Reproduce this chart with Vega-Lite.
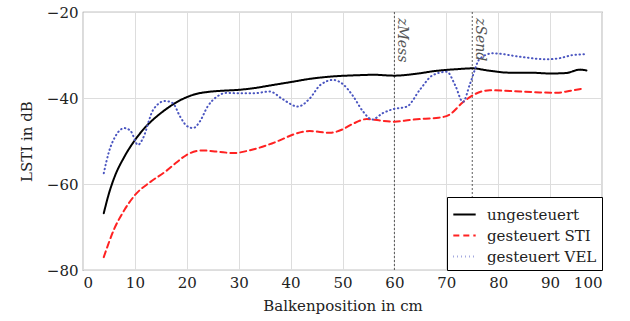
{
  "$schema": "https://vega.github.io/schema/vega-lite/v6.json",
  "width": 519,
  "height": 258,
  "autosize": {"type": "none"},
  "padding": {"left": 83, "top": 12, "right": 28, "bottom": 51},
  "background": "white",
  "config": {
    "font": "DejaVu Serif",
    "view": {"stroke": "#888888", "strokeWidth": 1.2},
    "axis": {
      "labelFont": "DejaVu Serif",
      "titleFont": "DejaVu Serif",
      "labelFontSize": 15,
      "titleFontSize": 15,
      "labelColor": "#222",
      "titleColor": "#222",
      "titleFontWeight": "normal",
      "gridColor": "#dddddd",
      "gridWidth": 1,
      "domain": false,
      "ticks": false
    }
  },
  "datasets": {
    "curves": [
      {"pos": 4, "val": -66.8, "serie": "ungesteuert"},
      {"pos": 5, "val": -62.2, "serie": "ungesteuert"},
      {"pos": 6, "val": -58.6, "serie": "ungesteuert"},
      {"pos": 8, "val": -53.6, "serie": "ungesteuert"},
      {"pos": 10, "val": -49.8, "serie": "ungesteuert"},
      {"pos": 12, "val": -46.8, "serie": "ungesteuert"},
      {"pos": 14, "val": -44.5, "serie": "ungesteuert"},
      {"pos": 16, "val": -42.6, "serie": "ungesteuert"},
      {"pos": 18, "val": -41.0, "serie": "ungesteuert"},
      {"pos": 20, "val": -39.8, "serie": "ungesteuert"},
      {"pos": 22, "val": -39.0, "serie": "ungesteuert"},
      {"pos": 24, "val": -38.6, "serie": "ungesteuert"},
      {"pos": 27, "val": -38.3, "serie": "ungesteuert"},
      {"pos": 30, "val": -38.1, "serie": "ungesteuert"},
      {"pos": 33, "val": -37.7, "serie": "ungesteuert"},
      {"pos": 36, "val": -37.1, "serie": "ungesteuert"},
      {"pos": 40, "val": -36.3, "serie": "ungesteuert"},
      {"pos": 44, "val": -35.5, "serie": "ungesteuert"},
      {"pos": 48, "val": -35.0, "serie": "ungesteuert"},
      {"pos": 53, "val": -34.7, "serie": "ungesteuert"},
      {"pos": 56, "val": -34.6, "serie": "ungesteuert"},
      {"pos": 60, "val": -34.8, "serie": "ungesteuert"},
      {"pos": 64, "val": -34.4, "serie": "ungesteuert"},
      {"pos": 68, "val": -33.7, "serie": "ungesteuert"},
      {"pos": 72, "val": -33.3, "serie": "ungesteuert"},
      {"pos": 75, "val": -33.1, "serie": "ungesteuert"},
      {"pos": 78, "val": -33.6, "serie": "ungesteuert"},
      {"pos": 82, "val": -34.1, "serie": "ungesteuert"},
      {"pos": 86, "val": -34.1, "serie": "ungesteuert"},
      {"pos": 90, "val": -34.3, "serie": "ungesteuert"},
      {"pos": 93, "val": -34.2, "serie": "ungesteuert"},
      {"pos": 95.8, "val": -33.4, "serie": "ungesteuert"},
      {"pos": 97, "val": -33.6, "serie": "ungesteuert"},

      {"pos": 4, "val": -77.0, "serie": "gesteuert STI"},
      {"pos": 6, "val": -70.5, "serie": "gesteuert STI"},
      {"pos": 8, "val": -66.0, "serie": "gesteuert STI"},
      {"pos": 10, "val": -62.6, "serie": "gesteuert STI"},
      {"pos": 13, "val": -59.5, "serie": "gesteuert STI"},
      {"pos": 16, "val": -57.0, "serie": "gesteuert STI"},
      {"pos": 18, "val": -55.0, "serie": "gesteuert STI"},
      {"pos": 20, "val": -53.2, "serie": "gesteuert STI"},
      {"pos": 23, "val": -52.2, "serie": "gesteuert STI"},
      {"pos": 26, "val": -52.5, "serie": "gesteuert STI"},
      {"pos": 29, "val": -52.8, "serie": "gesteuert STI"},
      {"pos": 32, "val": -52.2, "serie": "gesteuert STI"},
      {"pos": 35.4, "val": -51.0, "serie": "gesteuert STI"},
      {"pos": 38, "val": -49.8, "serie": "gesteuert STI"},
      {"pos": 40.5, "val": -48.5, "serie": "gesteuert STI"},
      {"pos": 43.7, "val": -47.7, "serie": "gesteuert STI"},
      {"pos": 47.6, "val": -48.1, "serie": "gesteuert STI"},
      {"pos": 50, "val": -47.3, "serie": "gesteuert STI"},
      {"pos": 52, "val": -46.0, "serie": "gesteuert STI"},
      {"pos": 54.7, "val": -44.9, "serie": "gesteuert STI"},
      {"pos": 57, "val": -45.2, "serie": "gesteuert STI"},
      {"pos": 60, "val": -45.5, "serie": "gesteuert STI"},
      {"pos": 63, "val": -45.1, "serie": "gesteuert STI"},
      {"pos": 66, "val": -44.8, "serie": "gesteuert STI"},
      {"pos": 68.5, "val": -44.6, "serie": "gesteuert STI"},
      {"pos": 70.7, "val": -43.8, "serie": "gesteuert STI"},
      {"pos": 73.2, "val": -41.0, "serie": "gesteuert STI"},
      {"pos": 75.2, "val": -39.3, "serie": "gesteuert STI"},
      {"pos": 78.4, "val": -38.2, "serie": "gesteuert STI"},
      {"pos": 81, "val": -38.3, "serie": "gesteuert STI"},
      {"pos": 84.2, "val": -38.5, "serie": "gesteuert STI"},
      {"pos": 88, "val": -38.7, "serie": "gesteuert STI"},
      {"pos": 91.3, "val": -38.8, "serie": "gesteuert STI"},
      {"pos": 94, "val": -38.3, "serie": "gesteuert STI"},
      {"pos": 96.3, "val": -37.8, "serie": "gesteuert STI"},

      {"pos": 4, "val": -57.5, "serie": "gesteuert VEL"},
      {"pos": 5, "val": -52.5, "serie": "gesteuert VEL"},
      {"pos": 6.2, "val": -49.0, "serie": "gesteuert VEL"},
      {"pos": 8, "val": -47.0, "serie": "gesteuert VEL"},
      {"pos": 9.2, "val": -47.7, "serie": "gesteuert VEL"},
      {"pos": 10.6, "val": -50.9, "serie": "gesteuert VEL"},
      {"pos": 11.5, "val": -49.5, "serie": "gesteuert VEL"},
      {"pos": 13.5, "val": -42.8, "serie": "gesteuert VEL"},
      {"pos": 15.8, "val": -40.7, "serie": "gesteuert VEL"},
      {"pos": 17.3, "val": -41.2, "serie": "gesteuert VEL"},
      {"pos": 18.7, "val": -44.3, "serie": "gesteuert VEL"},
      {"pos": 20, "val": -46.5, "serie": "gesteuert VEL"},
      {"pos": 21.2, "val": -47.0, "serie": "gesteuert VEL"},
      {"pos": 22.5, "val": -45.5, "serie": "gesteuert VEL"},
      {"pos": 24, "val": -42.0, "serie": "gesteuert VEL"},
      {"pos": 25.8, "val": -39.7, "serie": "gesteuert VEL"},
      {"pos": 27.7, "val": -38.8, "serie": "gesteuert VEL"},
      {"pos": 30, "val": -38.9, "serie": "gesteuert VEL"},
      {"pos": 32.8, "val": -38.9, "serie": "gesteuert VEL"},
      {"pos": 36, "val": -38.5, "serie": "gesteuert VEL"},
      {"pos": 38.5, "val": -40.3, "serie": "gesteuert VEL"},
      {"pos": 41.4, "val": -42.0, "serie": "gesteuert VEL"},
      {"pos": 43.7, "val": -40.1, "serie": "gesteuert VEL"},
      {"pos": 45.7, "val": -37.0, "serie": "gesteuert VEL"},
      {"pos": 48.2, "val": -35.8, "serie": "gesteuert VEL"},
      {"pos": 50.1, "val": -36.8, "serie": "gesteuert VEL"},
      {"pos": 52, "val": -39.5, "serie": "gesteuert VEL"},
      {"pos": 54, "val": -43.2, "serie": "gesteuert VEL"},
      {"pos": 55.7, "val": -45.0, "serie": "gesteuert VEL"},
      {"pos": 57.8, "val": -43.5, "serie": "gesteuert VEL"},
      {"pos": 59.7, "val": -42.6, "serie": "gesteuert VEL"},
      {"pos": 62.4, "val": -42.0, "serie": "gesteuert VEL"},
      {"pos": 64.9, "val": -38.1, "serie": "gesteuert VEL"},
      {"pos": 67.4, "val": -34.7, "serie": "gesteuert VEL"},
      {"pos": 70.1, "val": -33.9, "serie": "gesteuert VEL"},
      {"pos": 71.7, "val": -37.0, "serie": "gesteuert VEL"},
      {"pos": 73.2, "val": -40.9, "serie": "gesteuert VEL"},
      {"pos": 74.6, "val": -36.6, "serie": "gesteuert VEL"},
      {"pos": 76.5, "val": -30.8, "serie": "gesteuert VEL"},
      {"pos": 79, "val": -29.6, "serie": "gesteuert VEL"},
      {"pos": 84.2, "val": -30.4, "serie": "gesteuert VEL"},
      {"pos": 89.4, "val": -31.0, "serie": "gesteuert VEL"},
      {"pos": 92, "val": -30.7, "serie": "gesteuert VEL"},
      {"pos": 94.4, "val": -30.0, "serie": "gesteuert VEL"},
      {"pos": 97, "val": -29.8, "serie": "gesteuert VEL"}
    ],
    "marks": [
      {"pos": 60, "top": -20, "label": "zMess"},
      {"pos": 75, "top": -20, "label": "zSend"}
    ]
  },
  "layer": [
    {
      "data": {"name": "marks"},
      "mark": {"type": "rule", "color": "#333", "strokeWidth": 0.8, "strokeDash": [2, 2]},
      "encoding": {
        "x": {"field": "pos", "type": "quantitative", "scale": {"domain": [0, 100], "nice": false}}
      }
    },
    {
      "data": {"name": "marks"},
      "mark": {"type": "text", "angle": 90, "align": "left", "baseline": "alphabetic", "fontStyle": "italic", "fontSize": 14, "color": "#555", "dx": 6, "dy": -4},
      "encoding": {
        "x": {"field": "pos", "type": "quantitative", "scale": {"domain": [0, 100], "nice": false}},
        "y": {"field": "top", "type": "quantitative", "scale": {"domain": [-80, -20], "nice": false, "zero": false}},
        "text": {"field": "label"}
      }
    },
    {
      "data": {"name": "curves"},
      "mark": {"type": "line", "interpolate": "monotone", "strokeWidth": 2, "strokeCap": "round"},
      "encoding": {
        "x": {
          "field": "pos", "type": "quantitative",
          "scale": {"domain": [0, 100], "nice": false},
          "axis": {"values": [0, 10, 20, 30, 40, 50, 60, 70, 80, 90, 100], "title": "Balkenposition in cm", "labelPadding": 5, "titlePadding": 8}
        },
        "y": {
          "field": "val", "type": "quantitative",
          "scale": {"domain": [-80, -20], "nice": false, "zero": false},
          "axis": {"values": [-80, -60, -40, -20], "title": "LSTI in dB", "labelPadding": 5, "titlePadding": 12}
        },
        "color": {
          "field": "serie", "type": "nominal",
          "scale": {"domain": ["ungesteuert", "gesteuert STI", "gesteuert VEL"], "range": ["#000000", "#ff2222", "#4a55c0"]},
          "legend": {
            "title": null,
            "orient": "bottom-right",
            "offset": 0,
            "symbolType": "stroke",
            "symbolSize": 500,
            "symbolStrokeWidth": 2,
            "labelFont": "DejaVu Serif",
            "labelFontSize": 15,
            "labelColor": "#222",
            "strokeColor": "#000",
            "fillColor": "white",
            "padding": 5,
            "rowPadding": 0,
            "labelOffset": 10
          }
        },
        "strokeDash": {
          "field": "serie", "type": "nominal",
          "scale": {"domain": ["ungesteuert", "gesteuert STI", "gesteuert VEL"], "range": [[1, 0], [6, 4], [0.5, 3.5]]},
          "legend": {
            "title": null,
            "orient": "bottom-right",
            "offset": 0,
            "symbolType": "stroke",
            "symbolSize": 500,
            "symbolStrokeWidth": 2,
            "labelFont": "DejaVu Serif",
            "labelFontSize": 15,
            "labelColor": "#222",
            "strokeColor": "#000",
            "fillColor": "white",
            "padding": 5,
            "rowPadding": 0,
            "labelOffset": 10
          }
        }
      }
    }
  ]
}
